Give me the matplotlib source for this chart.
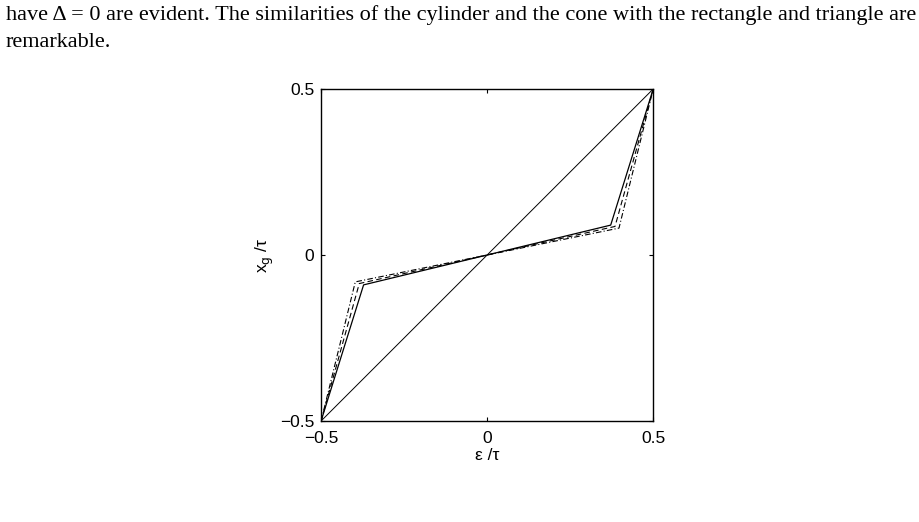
import matplotlib
matplotlib.use("Agg")
import matplotlib.pyplot as plt

# eps/tau vs x_g/tau for the shapes
diag_x = [-0.5, 0.5]
diag_y = [-0.5, 0.5]

solid_x = [-0.5, -0.372, 0.372, 0.5]
solid_y = [-0.5, -0.090, 0.090, 0.5]

dash_x = [-0.5, -0.385, 0.385, 0.5]
dash_y = [-0.5, -0.086, 0.086, 0.5]

dashdot_x = [-0.5, -0.397, 0.397, 0.5]
dashdot_y = [-0.5, -0.081, 0.081, 0.5]

ticks = [-0.5, 0, 0.5]
tick_labels = ["\u22120.5", "0", "0.5"]

text_line1 = ("have \u0394 = 0 are evident. The similarities of the cylinder and the cone "
              "with the rectangle and triangle are")
text_line2 = "remarkable."

fig = plt.figure(figsize=(9.2, 5.22), dpi=100)
fig.text(0.006, 0.972, text_line1, family="Liberation Serif", fontsize=16, va="center", ha="left")
fig.text(0.006, 0.919, text_line2, family="Liberation Serif", fontsize=16, va="center", ha="left")

ax = fig.add_axes([0.349, 0.1935, 0.361, 0.636])
ax.plot(diag_x, diag_y, "-", color="black", lw=0.7)
ax.plot(solid_x, solid_y, "-", color="black", lw=0.9)
ax.plot(dash_x, dash_y, "--", color="black", lw=0.8, dashes=(5, 3))
ax.plot(dashdot_x, dashdot_y, "-.", color="black", lw=0.8, dashes=(5, 2, 1, 2))

ax.set_xlim(-0.5, 0.5)
ax.set_ylim(-0.5, 0.5)
ax.set_xticks(ticks, tick_labels, family="Liberation Sans", fontsize=12.5)
ax.set_yticks(ticks, tick_labels, family="Liberation Sans", fontsize=12.5)
ax.tick_params(axis="x", direction="in", length=3, width=0.8, top=True, pad=7)
ax.tick_params(axis="y", direction="in", length=3, width=0.8, right=True, pad=5)
for s in ax.spines.values():
    s.set_linewidth(1.0)

ax.set_xlabel("\u03b5 /\u03c4", family="Liberation Sans", fontsize=12.5, labelpad=2)
ax.set_ylabel("x$_{\\rm g}$ /\u03c4", family="Liberation Sans", fontsize=12.5, labelpad=3)

plt.savefig("out.png", dpi=100)
